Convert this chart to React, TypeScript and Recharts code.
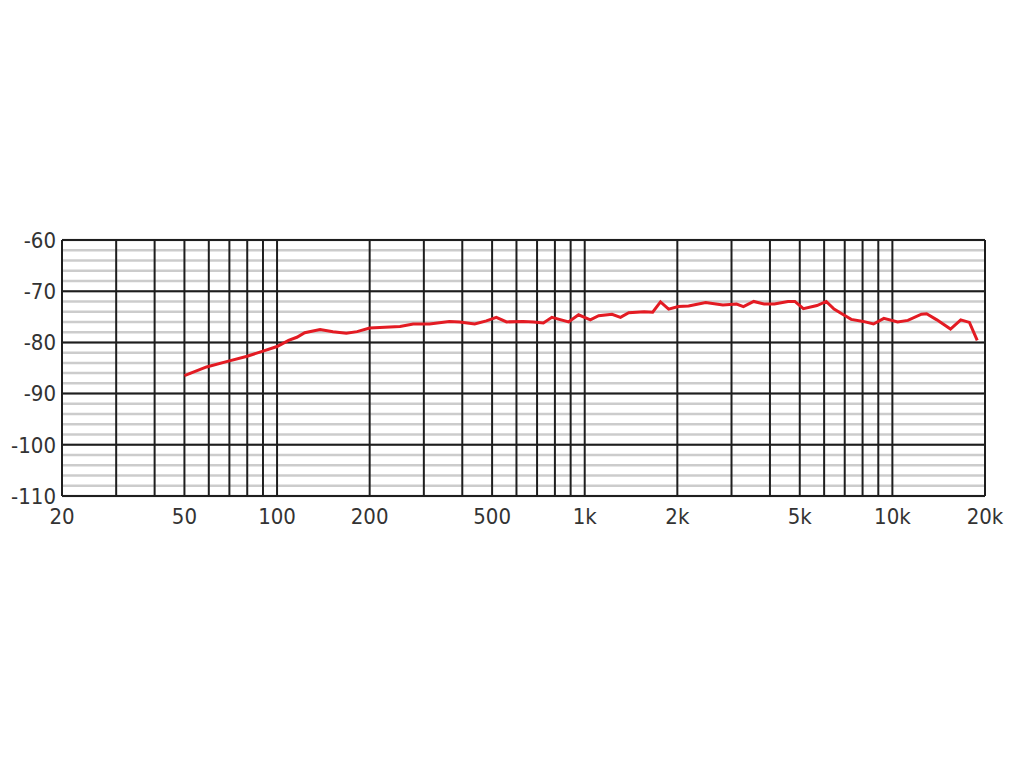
import { LineChart, Line, XAxis, YAxis, CartesianGrid, ReferenceLine } from "recharts";

// frequency response, Hz / dB
const FREQS = [
  50, 59, 69, 80, 89, 100, 109, 116, 123, 138, 152, 168, 182, 200,
  251, 277, 313, 363, 392, 439, 479, 516, 557, 631, 681, 734, 782, 886, 955,
  1043, 1110, 1227, 1307, 1390, 1560, 1663, 1763, 1874, 2015, 2176, 2473, 2813,
  3116, 3280, 3543, 3829, 4134, 4578, 4819, 5137, 5688, 6096, 6463, 6892, 7347,
  8038, 8683, 9381, 10400, 11230, 12430, 12920, 13950, 15450, 16680, 17800, 18870,
];
const LEVELS = [
  -86.5, -84.8, -83.7, -82.7, -81.8, -80.8, -79.6, -79.0, -78.1, -77.5, -77.9, -78.2, -77.9, -77.2,
  -76.9, -76.4, -76.4, -75.9, -76.0, -76.4, -75.8, -75.1, -76.0, -75.9, -76.0, -76.2, -75.1, -76.0, -74.6,
  -75.6, -74.8, -74.5, -75.1, -74.2, -74.0, -74.1, -72.1, -73.5, -73.0, -72.9, -72.2, -72.7,
  -72.5, -73.0, -72.0, -72.5, -72.5, -72.0, -72.0, -73.4, -72.8, -72.0, -73.5, -74.5, -75.5,
  -75.9, -76.4, -75.3, -76.0, -75.7, -74.5, -74.4, -75.6, -77.4, -75.6, -76.1, -79.6,
];

const X_LABELS = [20, 50, 100, 200, 500, 1000, 2000, 5000, 10000, 20000];
const X_GRID = [
  20, 30, 40, 50, 60, 70, 80, 90, 100, 200, 300, 400, 500, 600, 700, 800, 900,
  1000, 2000, 3000, 4000, 5000, 6000, 7000, 8000, 9000, 10000, 20000,
];
const Y_MAJOR = [-110, -100, -90, -80, -70, -60];
const Y_MINOR = [
  -110, -108, -106, -104, -102, -100, -98, -96, -94, -92, -90, -88, -86, -84, -82, -80,
  -78, -76, -74, -72, -70, -68, -66, -64, -62, -60,
];

const data = FREQS.map((f, i) => ({ f, db: LEVELS[i] }));

const fmtHz = (v: number) => (v >= 1000 ? `${v / 1000}k` : `${v}`);
const fmtDb = (v: number) => (v % 10 === 0 ? `${v}` : "");

const tickStyle = {
  fontSize: 22,
  fill: "#333333",
  fontFamily: "'Liberation Sans Narrow', 'DejaVu Sans Condensed', 'Open Sans', sans-serif",
};

export default function App() {
  return (
    <div style={{ position: "absolute", left: 0, top: 0, width: 1024, height: 768, background: "#fff" }}>
      <LineChart width={1024} height={768} data={data} margin={{ top: 240, right: 39, bottom: 242, left: 0 }}>
        <CartesianGrid vertical={false} horizontalValues={Y_MINOR} stroke="#cccccc" strokeWidth={2.5} />
        <XAxis
          dataKey="f"
          type="number"
          scale="log"
          domain={[20, 20000]}
          ticks={X_LABELS}
          tickFormatter={fmtHz}
          axisLine={false}
          tickLine={false}
          tickSize={0}
          tickMargin={12}
          height={30}
          tick={tickStyle}
          allowDataOverflow
        />
        <YAxis
          type="number"
          domain={[-110, -60]}
          ticks={Y_MINOR}
          tickFormatter={fmtDb}
          axisLine={false}
          tickLine={false}
          tickSize={0}
          tickMargin={6}
          width={62}
          tick={tickStyle}
          interval={0}
          allowDataOverflow
        />
        {Y_MAJOR.map((v) => (
          <ReferenceLine key={`y${v}`} y={v} stroke="#1e1e1e" strokeWidth={2} />
        ))}
        {X_GRID.map((v) => (
          <ReferenceLine key={`x${v}`} x={v} stroke="#1e1e1e" strokeWidth={2} />
        ))}
        <Line
          type="linear"
          dataKey="db"
          stroke="#e31b23"
          strokeWidth={3}
          dot={false}
          isAnimationActive={false}
        />
      </LineChart>
    </div>
  );
}
